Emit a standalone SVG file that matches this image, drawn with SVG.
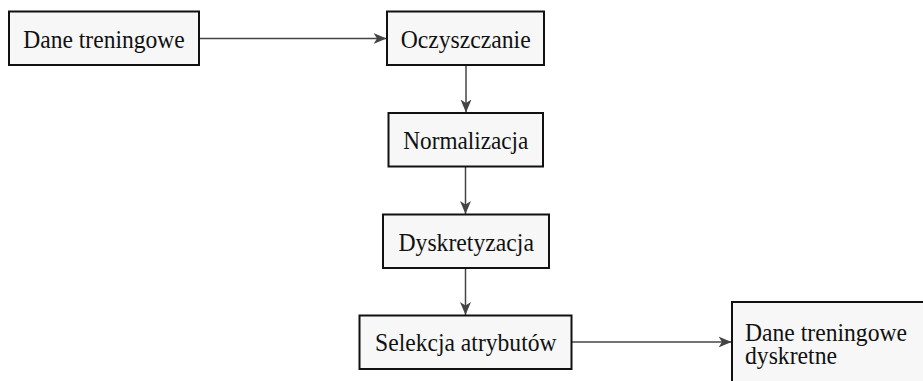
<svg xmlns="http://www.w3.org/2000/svg" width="923" height="381" viewBox="0 0 923 381">
<defs>
<style>
.box{fill:#f7f7f7;stroke:#111;stroke-width:2}
.lbl{font-family:"Liberation Serif","Times New Roman",serif;font-size:25px;fill:#111}
.c{text-anchor:middle}
.edge{stroke:#444;stroke-width:1.5;fill:none;marker-end:url(#arr)}
</style>
<marker id="arr" markerUnits="userSpaceOnUse" markerWidth="14" markerHeight="12" refX="13" refY="6" orient="auto">
<path d="M0,0.5 L13,6 L0,11.5 L3.5,6 z" fill="#444"/>
</marker>
</defs>
<rect width="923" height="381" fill="#fff"/>
<g id="connectors">
<line class="edge" x1="199.5" y1="38.5" x2="386.5" y2="38.5"/>
<line class="edge" x1="466" y1="65" x2="466" y2="112.5"/>
<line class="edge" x1="465.5" y1="167" x2="465.5" y2="214"/>
<line class="edge" x1="465.5" y1="268" x2="465.5" y2="315"/>
<line class="edge" x1="572" y1="342" x2="731.5" y2="342"/>
</g>
<g id="n1"><rect class="box" x="9" y="11.5" width="190" height="53.5"/><text class="lbl c" x="104" y="48.3" textLength="161.5" lengthAdjust="spacingAndGlyphs">Dane treningowe</text></g>
<g id="n2"><rect class="box" x="387" y="11.5" width="157" height="53.5"/><text class="lbl c" x="465.7" y="48.3" textLength="130" lengthAdjust="spacingAndGlyphs">Oczyszczanie</text></g>
<g id="n3"><rect class="box" x="388.5" y="113" width="154.5" height="53.5"/><text class="lbl c" x="465.8" y="148.8" textLength="125" lengthAdjust="spacingAndGlyphs">Normalizacja</text></g>
<g id="n4"><rect class="box" x="383" y="214.5" width="166" height="53.5"/><text class="lbl c" x="466.2" y="250.5" textLength="135.5" lengthAdjust="spacingAndGlyphs">Dyskretyzacja</text></g>
<g id="n5"><rect class="box" x="359.5" y="315.5" width="212" height="53.5"/><text class="lbl c" x="465.8" y="351.3" textLength="181.5" lengthAdjust="spacingAndGlyphs">Selekcja atrybutów</text></g>
<g id="n6"><rect class="box" x="732" y="302" width="200" height="90"/><text class="lbl"><tspan x="745" y="341" textLength="162" lengthAdjust="spacingAndGlyphs">Dane treningowe</tspan><tspan x="745" y="364" textLength="92" lengthAdjust="spacingAndGlyphs">dyskretne</tspan></text></g>
</svg>
